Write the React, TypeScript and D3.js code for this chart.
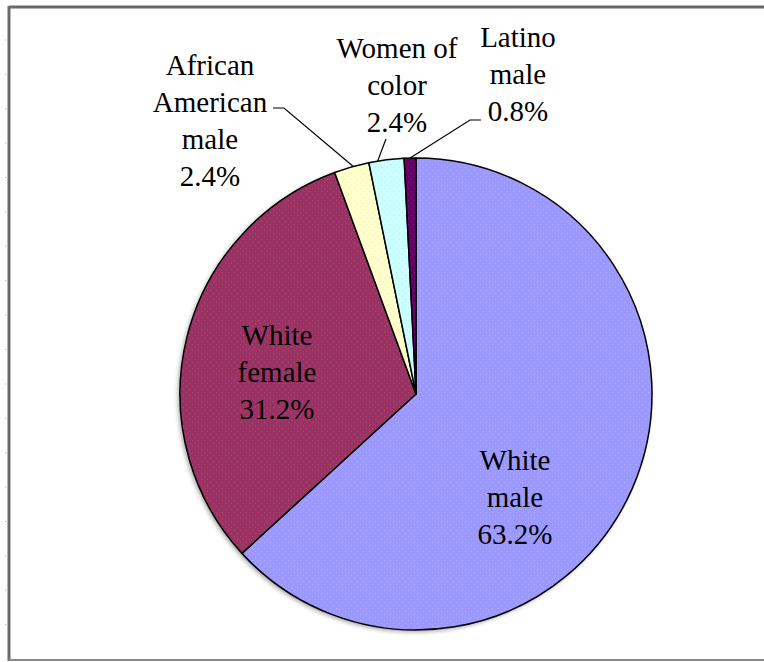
import React, { useEffect, useRef } from "react";
import * as d3 from "d3";

const categories = ["White male", "White female", "African American male", "Women of color", "Latino male"];
const values = [63.2, 31.2, 2.4, 2.4, 0.8];
const colors = ["#9999ff", "#993366", "#ffffcc", "#ccffff", "#660066"];
const dotColors = ["#c0a8ff", "#b8486a", "#f0f0c0", "#b8f0f0", "#7a1a7a"];
const labelLines = [
  ["White", "male", "63.2%"],
  ["White", "female", "31.2%"],
  ["African", "American", "male", "2.4%"],
  ["Women of", "color", "2.4%"],
  ["Latino", "male", "0.8%"],
];

const W = 764;
const H = 662;
const CX = 416;
const CY = 394;
const R = 236;
const LINE_H = 37;
const labelPos = [
  [515, 470],
  [277, 345],
  [210, 75],
  [397, 58],
  [518, 47],
];
const leaders: (number[][] | null)[] = [
  null,
  null,
  [[273, 108], [284, 108]],
  [[386, 139]],
  [[481, 120], [470, 120]],
];
const leaderFrac = [0, 0, 0.55, 0.25, 0.5];
const FONT = "'Times New Roman', Times, 'Liberation Serif', 'DejaVu Serif', 'Noto Serif', 'Nimbus Roman', FreeSerif, Georgia, serif";

export default function App() {
  const ref = useRef<SVGSVGElement>(null);
  useEffect(() => {
    const svg = d3.select(ref.current);
    svg.selectAll("*").remove();
    const defs = svg.append("defs");
    colors.forEach((c, i) => {
      const p = defs.append("pattern").attr("id", "pat" + i).attr("width", 6).attr("height", 6).attr("patternUnits", "userSpaceOnUse");
      p.append("rect").attr("width", 6).attr("height", 6).attr("fill", c);
      p.append("rect").attr("x", 1).attr("y", 1).attr("width", 1).attr("height", 1).attr("fill", dotColors[i]);
      p.append("rect").attr("x", 4).attr("y", 4).attr("width", 1).attr("height", 1).attr("fill", dotColors[i]);
    });
    const f = defs.append("filter").attr("id", "sh").attr("x", "-10%").attr("y", "-10%").attr("width", "120%").attr("height", "120%");
    f.append("feDropShadow").attr("dx", -2).attr("dy", 2).attr("stdDeviation", 2).attr("flood-color", "#000").attr("flood-opacity", 0.35);

    svg.append("rect").attr("width", W).attr("height", H).attr("fill", "#fff");

    const frame = svg.append("g");
    frame.append("line").attr("x1", 9).attr("x2", W).attr("y1", 7).attr("y2", 7).attr("stroke", "#6a6a6a").attr("stroke-width", 3);
    frame.append("line").attr("x1", 9).attr("x2", 9).attr("y1", 6).attr("y2", 661).attr("stroke", "#6a6a6a").attr("stroke-width", 3);
    frame.append("line").attr("x1", 9).attr("x2", W).attr("y1", 660).attr("y2", 660).attr("stroke", "#8a8a8a").attr("stroke-width", 2);
    const ticks = d3.range(40, 655, 34.4);
    frame.selectAll("line.tk").data(ticks).enter().append("line")
      .attr("x1", 5).attr("x2", 8).attr("y1", (d) => d).attr("y2", (d) => d).attr("stroke", "#c8c8c8").attr("stroke-width", 1);

    const pie = d3.pie<number>().sort(null).value((d) => d);
    const arcs = pie(values);
    const arc = d3.arc<d3.PieArcDatum<number>>().innerRadius(0).outerRadius(R);
    const g = svg.append("g").attr("transform", `translate(${CX},${CY})`);
    g.append("circle").attr("r", R).attr("fill", "#fff").attr("filter", "url(#sh)");
    g.selectAll("path").data(arcs).enter().append("path")
      .attr("d", arc as any)
      .attr("fill", (_, i) => `url(#pat${i})`)
      .attr("stroke", "#000").attr("stroke-width", 1.5).attr("stroke-linejoin", "round");

    arcs.forEach((a, i) => {
      const pts = leaders[i];
      if (!pts) return;
      const ang = a.startAngle + (a.endAngle - a.startAngle) * leaderFrac[i];
      const ex = CX + R * Math.sin(ang);
      const ey = CY - R * Math.cos(ang);
      const all = [...pts, [ex, ey]];
      svg.append("path").attr("d", d3.line()(all as [number, number][]) as string)
        .attr("fill", "none").attr("stroke", "#000").attr("stroke-width", 1.2);
    });

    labelLines.forEach((lines, i) => {
      const t = svg.append("text").attr("text-anchor", "middle")
        .attr("font-family", FONT)
        .attr("font-size", 29).attr("fill", "#000");
      lines.forEach((ln, j) => {
        t.append("tspan").attr("x", labelPos[i][0]).attr("y", labelPos[i][1] + j * LINE_H).text(ln);
      });
    });
  }, []);
  return (
    <svg ref={ref} width={W} height={H} style={{ position: "absolute", left: 0, top: 0, display: "block" }} />
  );
}
